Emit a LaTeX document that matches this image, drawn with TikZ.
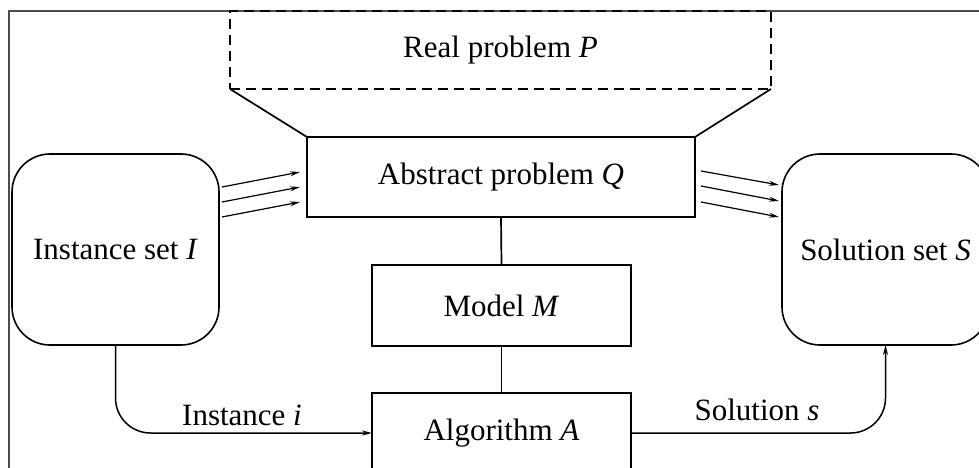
\documentclass[tikz,border=0pt]{standalone}
\usepackage{fontspec}
\setmainfont{Liberation Serif}
\usetikzlibrary{arrows.meta}
\begin{document}
\begin{tikzpicture}[x=1pt,y=-1pt,
  every node/.style={font=\fontsize{31}{37}\selectfont, inner sep=0pt, outer sep=0pt},
  boxnode/.style={draw, line width=1.7pt, minimum width=#1},
  roundbox/.style={draw, line width=1.6pt, rounded corners=38pt, minimum width=207pt, minimum height=191pt},
  conn/.style={line width=1.7pt},
  arr/.style={line width=1.2pt, -{Stealth[length=10pt,width=5pt]}},
  lab/.style={fill=none}]
\useasboundingbox (0,0) rectangle (979,468);
\clip (0,0) rectangle (979,468);
% outer frame
\draw[line width=1.8pt, black!70] (9,480) -- (9,11) -- (990,11);
% nodes
\node[boxnode=541pt, minimum height=78pt, dashed, dash pattern=on 10pt off 6pt] (real) at (500.5,50) {Real problem \textit{P}};
\node[boxnode=388pt, minimum height=80pt] (abs) at (501,177) {Abstract problem \textit{Q}};
\node[boxnode=259pt, minimum height=81pt] (model) at (501.5,305.5) {Model \textit{M}};
\node[boxnode=259pt, minimum height=80pt] (alg) at (501.5,433) {Algorithm \textit{A}};
\node[roundbox] (inst) at (115.5,249.5) {Instance set \textit{I}};
\node[roundbox] (sol) at (885.5,249.5) {Solution set \textit{S}};
% funnel
\draw[conn] (real.south west) -- (abs.north west);
\draw[conn] (real.south east) -- (abs.north east);
% vertical links
\draw[conn] (abs.south) -- (model.north);
\draw[conn] (model.south) -- (alg.north);
% instance arrows
\coordinate (ia1) at (222,187); \coordinate (ib1) at (300,172);
\coordinate (ia2) at (222,202); \coordinate (ib2) at (300,187);
\coordinate (ia3) at (222,217); \coordinate (ib3) at (300,202);
\draw[arr] (ia1) -- (ib1);
\draw[arr] (ia2) -- (ib2);
\draw[arr] (ia3) -- (ib3);
% solution arrows
\coordinate (sa1) at (701,171); \coordinate (sb1) at (779,185);
\coordinate (sa2) at (701,186); \coordinate (sb2) at (779,201);
\coordinate (sa3) at (701,202); \coordinate (sb3) at (779,217);
\draw[arr] (sa1) -- (sb1);
\draw[arr] (sa2) -- (sb2);
\draw[arr] (sa3) -- (sb3);
% connectors
\draw[arr, line width=1.5pt, rounded corners=35pt] (inst.south) |- (alg.west);
\draw[arr, line width=1.5pt, rounded corners=35pt] (alg.east) -| (sol.south);
% labels
\node (li) at (242,415) {Instance \textit{i}};
\node (ls) at (757,410) {Solution \textit{s}};
\end{tikzpicture}
\end{document}
